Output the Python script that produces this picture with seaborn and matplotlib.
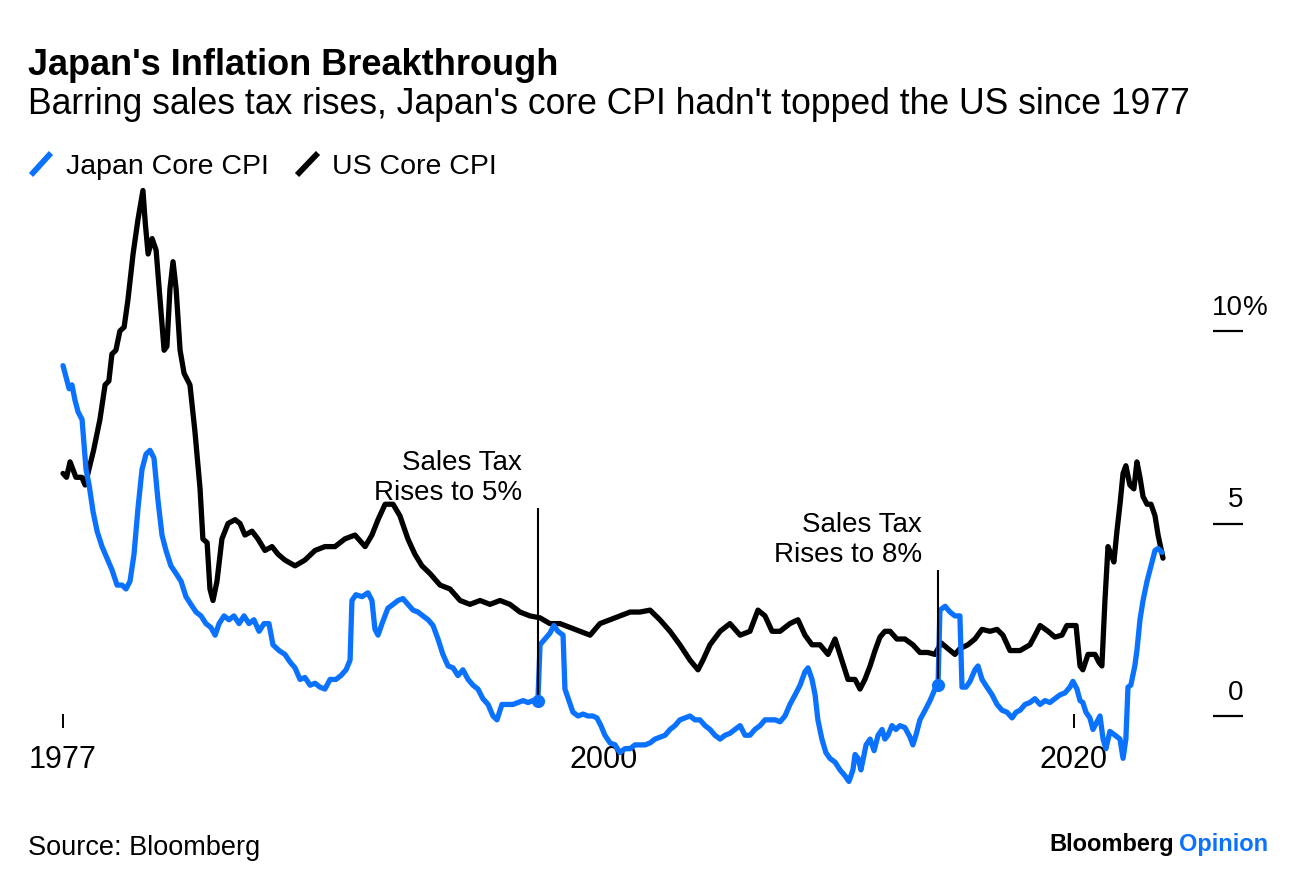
import matplotlib
matplotlib.use("Agg")
import matplotlib.pyplot as plt
from matplotlib.lines import Line2D
import seaborn as sns

# Readings taken off the chart (year, % y/y)
us_years = [1977.00, 1977.15, 1977.30, 1977.55, 1977.80, 1977.94, 1978.06, 1978.30, 1978.57, 1978.79,
            1978.95, 1979.08, 1979.25, 1979.42, 1979.60, 1979.76, 1979.98, 1980.19, 1980.40, 1980.50,
            1980.62, 1980.79, 1980.96, 1981.13, 1981.30, 1981.42, 1981.55, 1981.68, 1981.81, 1981.98,
            1982.15, 1982.40, 1982.61, 1982.83, 1982.95, 1983.13, 1983.25, 1983.38, 1983.55, 1983.76,
            1984.02, 1984.32, 1984.53, 1984.74, 1985.04, 1985.29, 1985.59, 1985.89, 1986.15, 1986.44,
            1986.87, 1987.29, 1987.72, 1988.14, 1988.57, 1988.99, 1989.42, 1989.85, 1990.14, 1990.40,
            1990.70, 1991.04, 1991.33, 1991.67, 1991.97, 1992.27, 1992.61, 1993.04, 1993.46, 1993.89,
            1994.31, 1994.74, 1995.16, 1995.59, 1996.01, 1996.44, 1996.86, 1997.29, 1997.71, 1998.14,
            1998.57, 1998.99, 1999.42, 1999.84, 2000.27, 2000.69, 2001.12, 2001.54, 2001.97, 2002.39,
            2002.82, 2003.24, 2003.67, 2004.01, 2004.22, 2004.52, 2004.95, 2005.37, 2005.80, 2006.22,
            2006.56, 2006.86, 2007.16, 2007.50, 2007.92, 2008.26, 2008.56, 2008.86, 2009.20, 2009.54,
            2009.84, 2010.13, 2010.39, 2010.69, 2010.90, 2011.11, 2011.33, 2011.54, 2011.75, 2011.96,
            2012.18, 2012.47, 2012.81, 2013.15, 2013.45, 2013.79, 2014.09, 2014.35, 2014.64, 2014.94,
            2015.15, 2015.49, 2015.79, 2016.09, 2016.43, 2016.73, 2016.98, 2017.28, 2017.71, 2018.13,
            2018.35, 2018.56, 2018.90, 2019.19, 2019.49, 2019.70, 2020.09, 2020.26, 2020.38, 2020.60,
            2020.90, 2021.06, 2021.19, 2021.32, 2021.45, 2021.58, 2021.70, 2021.83, 2021.96, 2022.09,
            2022.21, 2022.38, 2022.55, 2022.68, 2022.81, 2022.94, 2023.11, 2023.28, 2023.45, 2023.58,
            2023.79]
us_values = [6.3, 6.2, 6.6, 6.2, 6.2, 6.0, 6.3, 6.9, 7.7, 8.6,
             8.7, 9.4, 9.5, 10.0, 10.1, 10.8, 12.0, 12.9, 13.65, 12.8,
             12.0, 12.4, 12.1, 10.8, 9.5, 9.6, 11.1, 11.8, 11.1, 9.5,
             8.9, 8.6, 7.4, 5.9, 4.6, 4.5, 3.3, 3.0, 3.5, 4.6,
             5.0, 5.1, 5.0, 4.7, 4.8, 4.6, 4.3, 4.4, 4.2, 4.05,
             3.9, 4.05, 4.3, 4.4, 4.4, 4.6, 4.7, 4.4, 4.7, 5.1,
             5.5, 5.5, 5.2, 4.6, 4.2, 3.9, 3.7, 3.4, 3.3, 3.0,
             2.9, 3.0, 2.9, 3.0, 2.9, 2.7, 2.6, 2.55, 2.4, 2.4,
             2.3, 2.2, 2.1, 2.4, 2.5, 2.6, 2.7, 2.7, 2.75, 2.5,
             2.2, 1.85, 1.45, 1.2, 1.45, 1.85, 2.2, 2.4, 2.1, 2.2,
             2.75, 2.6, 2.2, 2.2, 2.4, 2.5, 2.1, 1.85, 1.85, 1.6,
             2.0, 1.45, 0.95, 0.95, 0.7, 0.95, 1.3, 1.7, 2.05, 2.2,
             2.2, 2.0, 2.0, 1.85, 1.65, 1.65, 1.6, 1.9, 1.75, 1.6,
             1.75, 1.85, 2.0, 2.25, 2.2, 2.25, 2.1, 1.7, 1.7, 1.85,
             2.1, 2.35, 2.2, 2.05, 2.1, 2.35, 2.35, 1.3, 1.2, 1.6,
             1.6, 1.4, 1.3, 3.0, 4.4, 4.2, 4.0, 4.8, 5.5, 6.3,
             6.5, 6.0, 5.9, 6.6, 6.2, 5.7, 5.5, 5.5, 5.2, 4.7,
             4.1]

jp_years = [1977.00, 1977.13, 1977.26, 1977.38, 1977.51, 1977.64, 1977.81, 1977.98, 1978.11, 1978.28,
            1978.45, 1978.66, 1978.87, 1979.08, 1979.30, 1979.51, 1979.68, 1979.85, 1980.02, 1980.19,
            1980.36, 1980.53, 1980.70, 1980.87, 1981.04, 1981.21, 1981.38, 1981.59, 1981.81, 1982.02,
            1982.23, 1982.44, 1982.66, 1982.87, 1983.08, 1983.29, 1983.47, 1983.64, 1983.85, 1984.06,
            1984.27, 1984.49, 1984.70, 1984.91, 1985.12, 1985.34, 1985.55, 1985.76, 1985.93, 1986.19,
            1986.44, 1986.66, 1986.87, 1987.08, 1987.29, 1987.51, 1987.72, 1987.93, 1988.14, 1988.36,
            1988.61, 1988.82, 1989.04, 1989.21, 1989.29, 1989.46, 1989.72, 1989.97, 1990.14, 1990.27,
            1990.40, 1990.57, 1990.82, 1991.04, 1991.25, 1991.46, 1991.67, 1991.89, 1992.10, 1992.31,
            1992.53, 1992.74, 1992.95, 1993.16, 1993.38, 1993.59, 1993.80, 1994.01, 1994.23, 1994.44,
            1994.65, 1994.86, 1995.08, 1995.29, 1995.46, 1995.67, 1995.93, 1996.14, 1996.35, 1996.57,
            1996.78, 1996.99, 1997.20, 1997.29, 1997.50, 1997.71, 1997.88, 1998.05, 1998.27, 1998.35,
            1998.52, 1998.69, 1998.91, 1999.12, 1999.33, 1999.54, 1999.71, 1999.88, 2000.05, 2000.27,
            2000.48, 2000.69, 2000.90, 2001.12, 2001.33, 2001.54, 2001.76, 2001.97, 2002.18, 2002.39,
            2002.61, 2002.82, 2003.03, 2003.24, 2003.46, 2003.67, 2003.88, 2004.09, 2004.31, 2004.52,
            2004.73, 2004.95, 2005.16, 2005.37, 2005.58, 2005.80, 2006.01, 2006.22, 2006.43, 2006.65,
            2006.86, 2007.07, 2007.29, 2007.50, 2007.71, 2007.92, 2008.14, 2008.35, 2008.56, 2008.69,
            2008.86, 2008.99, 2009.11, 2009.28, 2009.45, 2009.62, 2009.84, 2010.05, 2010.26, 2010.43,
            2010.60, 2010.69, 2010.82, 2010.94, 2011.16, 2011.33, 2011.50, 2011.67, 2011.84, 2011.96,
            2012.09, 2012.26, 2012.43, 2012.60, 2012.81, 2013.03, 2013.15, 2013.28, 2013.45, 2013.67,
            2013.88, 2014.09, 2014.22, 2014.30, 2014.52, 2014.73, 2014.94, 2015.15, 2015.24, 2015.41,
            2015.58, 2015.79, 2015.92, 2016.09, 2016.30, 2016.52, 2016.73, 2016.94, 2017.15, 2017.37,
            2017.54, 2017.71, 2017.92, 2018.13, 2018.34, 2018.56, 2018.77, 2018.98, 2019.19, 2019.41,
            2019.62, 2019.83, 2019.96, 2020.13, 2020.26, 2020.38, 2020.51, 2020.68, 2020.81, 2020.98,
            2021.11, 2021.24, 2021.36, 2021.53, 2021.75, 2021.96, 2022.09, 2022.21, 2022.30, 2022.42,
            2022.59, 2022.68, 2022.81, 2022.94, 2023.11, 2023.28, 2023.45, 2023.58, 2023.75]
jp_values = [9.1, 8.8, 8.5, 8.6, 8.2, 7.9, 7.7, 6.4, 6.0, 5.3,
             4.8, 4.4, 4.1, 3.8, 3.4, 3.4, 3.3, 3.5, 4.2, 5.4,
             6.4, 6.8, 6.9, 6.7, 5.6, 4.7, 4.3, 3.9, 3.7, 3.5,
             3.1, 2.9, 2.7, 2.6, 2.4, 2.3, 2.1, 2.4, 2.6, 2.5,
             2.6, 2.4, 2.6, 2.4, 2.5, 2.2, 2.4, 2.4, 1.85, 1.7,
             1.6, 1.4, 1.25, 0.95, 1.0, 0.8, 0.85, 0.75, 0.7, 0.95,
             0.95, 1.05, 1.2, 1.45, 3.0, 3.15, 3.1, 3.2, 3.0, 2.25,
             2.1, 2.4, 2.8, 2.9, 3.0, 3.05, 2.9, 2.75, 2.7, 2.6,
             2.5, 2.35, 2.0, 1.6, 1.3, 1.25, 1.05, 1.2, 0.95, 0.8,
             0.7, 0.45, 0.3, 0.0, -0.1, 0.3, 0.3, 0.3, 0.35, 0.4,
             0.35, 0.4, 0.4, 1.85, 2.0, 2.15, 2.35, 2.2, 2.1, 0.7,
             0.4, 0.1, 0.0, 0.05, 0.0, 0.0, -0.05, -0.25, -0.5, -0.7,
             -0.75, -0.95, -0.85, -0.85, -0.75, -0.75, -0.75, -0.7, -0.6, -0.55,
             -0.5, -0.35, -0.25, -0.1, -0.05, 0.0, -0.1, -0.1, -0.25, -0.35,
             -0.5, -0.6, -0.5, -0.45, -0.35, -0.25, -0.5, -0.5, -0.35, -0.25,
             -0.1, -0.1, -0.1, -0.15, 0.0, 0.3, 0.55, 0.8, 1.15, 1.25,
             0.95, 0.55, -0.1, -0.6, -0.95, -1.1, -1.2, -1.4, -1.55, -1.7,
             -1.4, -1.0, -1.1, -1.4, -0.75, -0.6, -0.9, -0.5, -0.35, -0.6,
             -0.5, -0.25, -0.35, -0.25, -0.3, -0.55, -0.75, -0.5, -0.1, 0.15,
             0.4, 0.7, 0.8, 2.75, 2.85, 2.7, 2.6, 2.6, 0.75, 0.75,
             0.9, 1.2, 1.3, 0.95, 0.75, 0.55, 0.3, 0.15, 0.1, -0.05,
             0.1, 0.15, 0.3, 0.35, 0.45, 0.3, 0.4, 0.35, 0.45, 0.55,
             0.6, 0.75, 0.9, 0.7, 0.4, 0.35, 0.1, -0.05, -0.35, -0.15,
             0.0, -0.6, -0.85, -0.4, -0.5, -0.6, -1.1, -0.6, 0.75, 0.8,
             1.3, 1.7, 2.5, 3.0, 3.5, 3.9, 4.3, 4.35, 4.25]

# Sales tax hikes (last reading before each jump)
tax_years = [1997.20, 2014.22]
tax_values = [0.4, 0.8]
tax_line_tops = [5.4, 3.8]
tax_labels = [("Sales Tax", "Rises to 5%"), ("Sales Tax", "Rises to 8%")]

x_tick_labels = [1977, 2000, 2020]
x_tick_marks = [1977, 2020]  # the 2000 tick sits under the Japan line
y_ticks = [0, 5, 10]
y_tick_labels = ["0", "5", "10"]

BLUE = "#0a72ff"
W, H = 1296, 886


def px(x, y):
    # pixel position -> figure fraction
    return x / W, 1 - y / H


sns.set_theme(style="white")
plt.rcParams['font.family'] = ['Liberation Sans', 'DejaVu Sans']

fig = plt.figure(figsize=(W / 100, H / 100), dpi=100)
ax = fig.add_axes([30 / W, (H - 790) / H, 1220 / W, 610 / H])
ax.set_xlim(1975.596, 2027.49)
ax.set_ylim(-1.922, 13.922)
ax.axis("off")

# axis decorations drawn in data space
ax.vlines(x_tick_marks, -0.3, 0.05, color="black", lw=1.4, zorder=1)
for yr in x_tick_labels:
    ax.text(yr, -1.35, str(yr), ha="center", va="baseline", fontsize=22, color="black")

ytf = ax.get_yaxis_transform()
ax.hlines(y_ticks, 0.9697, 0.9943, transform=ytf, color="black", lw=1.6)
for v, lab in zip(y_ticks, y_tick_labels):
    ax.text(0.9943, v + 0.42, lab, transform=ytf, ha="right", va="baseline", fontsize=20, color="black")
ax.text(0.9943, 10.42, "%", transform=ytf, ha="left", va="baseline", fontsize=20, color="black")

# the two series
sns.lineplot(x=us_years, y=us_values, ax=ax, color="black", lw=3.8, zorder=3)
sns.lineplot(x=jp_years, y=jp_values, ax=ax, color=BLUE, lw=3.8, zorder=4)

# sales tax annotations
ax.vlines(tax_years, tax_values, tax_line_tops, color="black", lw=1.5, zorder=5)
ax.scatter(tax_years, tax_values, s=90, color=BLUE, zorder=6, linewidths=0)
for yr, top, (l1, l2) in zip(tax_years, tax_line_tops, tax_labels):
    ax.text(yr - 0.68, top + 0.2, l2, ha="right", va="baseline", fontsize=20, color="black")
    ax.text(yr - 0.68, top + 0.98, l1, ha="right", va="baseline", fontsize=20, color="black")

# titles
fig.text(*px(28, 75), "Japan's Inflation Breakthrough", fontsize=26, fontweight="bold",
         ha="left", va="baseline", color="black")
fig.text(*px(28, 114), "Barring sales tax rises, Japan's core CPI hadn't topped the US since 1977",
         fontsize=25.6, ha="left", va="baseline", color="black")

# legend
fig.add_artist(Line2D([31 / W, 51 / W], [1 - 175 / H, 1 - 153 / H], color=BLUE, lw=4.2,
                      solid_capstyle="butt"))
fig.text(*px(66, 174), "Japan Core CPI", fontsize=20.5, ha="left", va="baseline", color="black")
fig.add_artist(Line2D([297 / W, 318 / W], [1 - 175 / H, 1 - 153 / H], color="black", lw=4.2,
                      solid_capstyle="butt"))
fig.text(*px(332, 174), "US Core CPI", fontsize=20.5, ha="left", va="baseline", color="black")

# footer
fig.text(*px(28, 855), "Source: Bloomberg", fontsize=19.5, ha="left", va="baseline", color="black")
fig.text(*px(1268, 851), "Opinion", fontsize=17, fontweight="bold", ha="right", va="baseline", color=BLUE)
fig.text(*px(1174, 851), "Bloomberg", fontsize=17, fontweight="bold", ha="right", va="baseline",
         color="black")

fig.savefig("out.png", dpi=100, facecolor="white")
